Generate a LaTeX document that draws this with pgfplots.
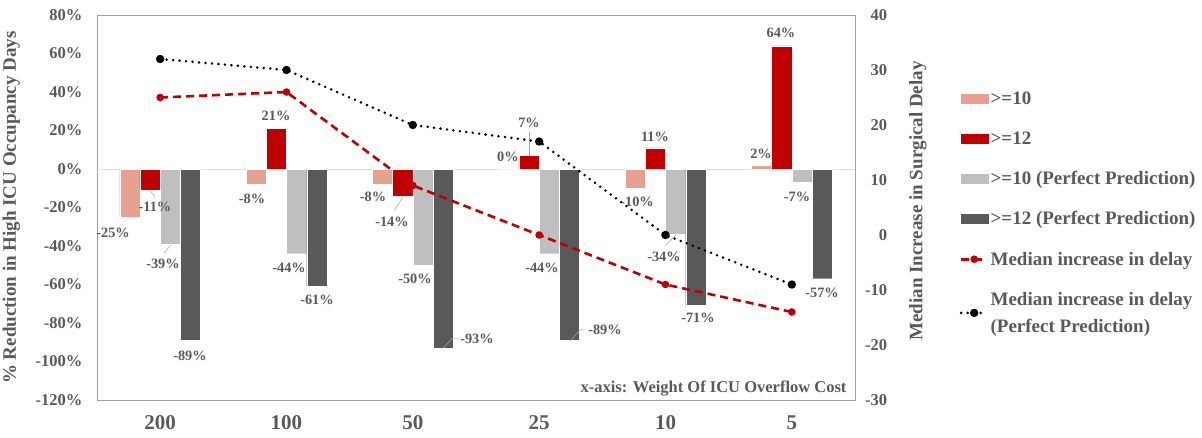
\documentclass[border=0pt]{standalone}
\usepackage{pgfplots}
\pgfplotsset{compat=1.18}
\usepackage{fontspec}
\setmainfont{Liberation Serif}
\definecolor{salmon}{HTML}{E6A191}
\definecolor{dred}{HTML}{C00000}
\definecolor{lgray}{HTML}{BFBFBF}
\definecolor{dgray}{HTML}{595959}
\definecolor{txt}{HTML}{595959}
\definecolor{lead}{HTML}{A6A6A6}
\pgfplotsset{
  lineleg/.style={legend image code/.code={\draw[mark repeat=2, mark phase=2, ##1] plot coordinates {(0pt,0pt) (13pt,0pt) (26pt,0pt)};}},
  barleg/.style={legend image code/.code={\fill[#1] (0pt,-4.5pt) rectangle (27pt,4.5pt);}},
}
\begin{document}
\begin{tikzpicture}
\path[use as bounding box] (0pt,0pt) rectangle (1202pt,437pt);
\tikzset{lbl/.style={font=\bfseries\fontsize{14.3}{14.3}\selectfont, text=txt, inner sep=0pt}}
\begin{axis}[
  at={(97pt,37pt)}, anchor=south west,
  scale only axis, width=758pt, height=385pt,
  xmin=-0.5, xmax=5.5, ymin=-120, ymax=80,
  ybar, bar width=0.16,
  xtick={0,1,2,3,4,5}, xticklabels={200,100,50,25,10,5},
  ytick={-120,-100,-80,-60,-40,-20,0,20,40,60,80},
  yticklabels={-120\%,-100\%,-80\%,-60\%,-40\%,-20\%,0\%,20\%,40\%,60\%,80\%},
  major tick length=0pt,
  axis line style={draw=gray!75, line width=0.9pt},
  xticklabel style={font=\bfseries\fontsize{21}{21}\selectfont, text=txt, yshift=-12pt},
  yticklabel style={font=\bfseries\fontsize{16.5}{16.5}\selectfont, text=txt, xshift=-11pt},
  ylabel={\% Reduction in High ICU Occupancy Days},
  ylabel style={at={(axis description cs:-0.113,0.5)}, anchor=center, font=\bfseries\fontsize{19}{19}\selectfont, text=txt},
  extra y ticks={0}, extra y tick labels={},
  extra y tick style={grid=major, major grid style={draw=gray!25, line width=0.8pt}},
  clip=false,
]
\addplot[fill=salmon, draw=white, line width=0.4pt, bar shift=-0.24] coordinates {(0,-25) (1,-8) (2,-8) (3,0) (4,-10) (5,2)};
\addplot[fill=dred, draw=white, line width=0.4pt, bar shift=-0.08] coordinates {(0,-11) (1,21) (2,-14) (3,7) (4,11) (5,64)};
\addplot[fill=lgray, draw=white, line width=0.4pt, bar shift=0.08] coordinates {(0,-39) (1,-44) (2,-50) (3,-44) (4,-34) (5,-7)};
\addplot[fill=dgray, draw=white, line width=0.4pt, bar shift=0.24] coordinates {(0,-89) (1,-61) (2,-93) (3,-89) (4,-71) (5,-57)};
% leader lines
\draw[lead, line width=0.5pt] (axis cs:-0.080,-11.4) -- (axis cs:-0.041,-14.5);
\draw[lead, line width=0.5pt] (axis cs:0.086,-39.5) -- (axis cs:0.030,-43.6);
\draw[lead, line width=0.5pt] (axis cs:1.922,-14.6) -- (axis cs:1.850,-21.8);
\draw[lead, line width=0.5pt] (axis cs:2.239,-93) -- (axis cs:2.318,-87.8) -- (axis cs:2.373,-87.8);
\draw[lead, line width=0.5pt] (axis cs:2.92,19.2) -- (axis cs:2.92,6.8);
\draw[lead, line width=0.5pt] (axis cs:3.244,-89.4) -- (axis cs:3.323,-83.6) -- (axis cs:3.363,-83.6);
\draw[lead, line width=0.5pt] (axis cs:4.083,-34.3) -- (axis cs:3.995,-40);
% data labels
\node[lbl] at (axis cs:-0.373,-33.3) {-25\%};
\node[lbl] at (axis cs:-0.041,-19.7) {-11\%};
\node[lbl] at (axis cs:0.022,-49.4) {-39\%};
\node[lbl] at (axis cs:0.236,-97.2) {-89\%};
\node[lbl] at (axis cs:0.917,27.5) {21\%};
\node[lbl] at (axis cs:0.727,-15.6) {-8\%};
\node[lbl] at (axis cs:1.02,-51.5) {-44\%};
\node[lbl] at (axis cs:1.241,-68.1) {-61\%};
\node[lbl] at (axis cs:1.685,-14.5) {-8\%};
\node[lbl] at (axis cs:1.835,-27.5) {-14\%};
\node[lbl] at (axis cs:2.017,-57.2) {-50\%};
\node[lbl] at (axis cs:2.508,-88.3) {-93\%};
\node[lbl] at (axis cs:2.92,23.9) {7\%};
\node[lbl] at (axis cs:2.753,6.2) {0\%};
\node[lbl] at (axis cs:3.022,-51.5) {-44\%};
\node[lbl] at (axis cs:3.521,-83.6) {-89\%};
\node[lbl] at (axis cs:3.917,16.6) {11\%};
\node[lbl] at (axis cs:3.775,-17.1) {-10\%};
\node[lbl] at (axis cs:3.988,-45.7) {-34\%};
\node[lbl] at (axis cs:4.257,-77.4) {-71\%};
\node[lbl] at (axis cs:4.914,70.6) {64\%};
\node[lbl] at (axis cs:4.756,7.8) {2\%};
\node[lbl] at (axis cs:5.041,-14.5) {-7\%};
\node[lbl] at (axis cs:5.239,-64.4) {-57\%};
\node[font=\bfseries\fontsize{16.5}{16.5}\selectfont, text=txt, anchor=base east, inner sep=0pt] at (rel axis cs:0.989,0.02) {x-axis: Weight Of ICU Overflow Cost};
\end{axis}
\begin{axis}[
  at={(97pt,37pt)}, anchor=south west,
  scale only axis, width=758pt, height=385pt,
  xmin=-0.5, xmax=5.5, ymin=-30, ymax=40,
  axis x line=none, axis y line*=right,
  ytick={-30,-20,-10,0,10,20,30,40},
  yticklabels={-30,-20,-10,0,10,20,30,40},
  major tick length=0pt,
  axis line style={draw=gray!75, line width=0.9pt},
  yticklabel style={font=\bfseries\fontsize{16.5}{16.5}\selectfont, text=txt, text width=26pt, align=right, inner sep=0pt, xshift=6pt},
  ylabel={Median Increase in Surgical Delay},
  ylabel style={at={(axis description cs:1.083,0.517)}, anchor=center, font=\bfseries\fontsize{19}{19}\selectfont, text=txt},
  legend style={draw=none, fill=none, at={(1.138,0.806)}, anchor=north west,
    font=\bfseries\fontsize{19}{23}\selectfont, text=txt, row sep=21.5pt,
    cells={align=left}, inner sep=0pt},
  legend cell align=left,
]
\addlegendimage{barleg=salmon}
\addlegendentry{>=10}
\addlegendimage{barleg=dred}
\addlegendentry{>=12}
\addlegendimage{barleg=lgray}
\addlegendentry{>=10 (Perfect Prediction)}
\addlegendimage{barleg=dgray}
\addlegendentry{>=12 (Perfect Prediction)}
\addplot[dred, line width=2.6pt, dash pattern=on 8pt off 5pt, mark=*, mark size=2.4pt, mark options={solid}, lineleg]
  coordinates {(0,25) (1,26) (2,9) (3,0) (4,-9) (5,-14)};
\addlegendentry{Median increase in delay}
\addplot[black, line width=2.8pt, dash pattern=on 0pt off 6.5pt, line cap=round, mark=*, mark size=2.7pt, mark options={solid}, lineleg]
  coordinates {(0,32) (1,30) (2,20) (3,17) (4,0) (5,-9)};
\addlegendentry{Median increase in delay\\[4pt](Perfect Prediction)}
\end{axis}
\end{tikzpicture}
\end{document}
